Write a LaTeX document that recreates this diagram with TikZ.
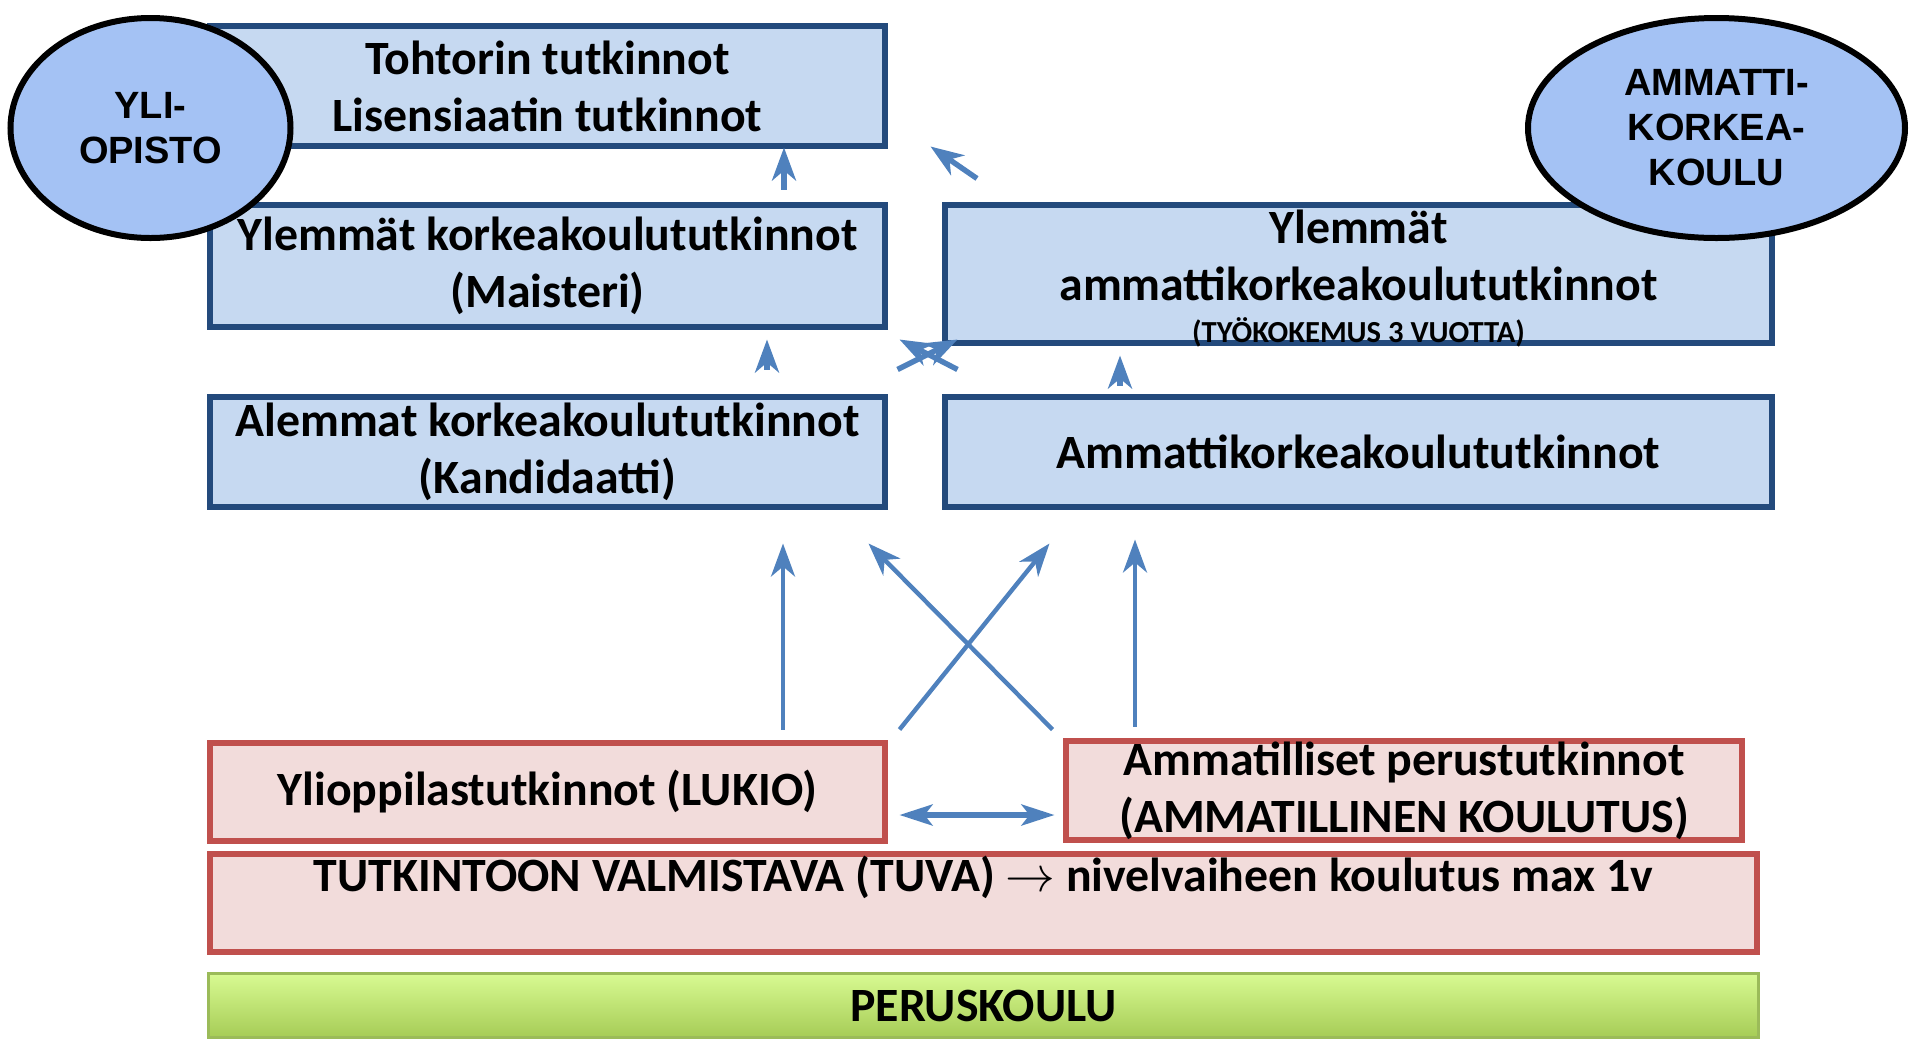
\documentclass[tikz,border=0pt]{standalone}
\usepackage{fontspec}
\setmainfont{Carlito}
\newfontfamily\arialf{Liberation Sans}
\usetikzlibrary{arrows.meta,shapes.geometric,calc}
\definecolor{bfill}{RGB}{198,217,241}
\definecolor{bline}{RGB}{35,74,124}
\definecolor{rfill}{RGB}{242,220,219}
\definecolor{rline}{RGB}{192,80,77}
\definecolor{efill}{RGB}{164,194,244}
\definecolor{arrc}{RGB}{79,129,189}
\definecolor{gtop}{RGB}{216,250,146}
\definecolor{gbot}{RGB}{166,204,86}
\definecolor{gline}{RGB}{155,187,89}
\begin{document}
\begin{tikzpicture}[x=0.5pt,y=-0.5pt,
  basetxt/.style={inner sep=0pt,align=center,font=\bfseries\fontsize{23.9}{28.5}\selectfont},
  bluebox/.style={basetxt,draw=bline,fill=bfill,line width=3pt},
  redbox/.style={basetxt,draw=rline,fill=rfill,line width=3pt},
  greenbox/.style={basetxt,draw=gline,top color=gtop,bottom color=gbot,line width=1.5pt},
  oval/.style={ellipse,draw=black,fill=efill,line width=3pt,inner sep=0pt,align=center,
    font=\arialf\bfseries\fontsize{19}{22.5}\selectfont},
  txt/.style={basetxt,anchor=base},
  arr/.style={draw=arrc,line width=2.2pt,-{Stealth[length=16.5pt,width=12pt,inset=5pt]}},
  sarr/.style={draw=arrc,line width=2.7pt,-{Stealth[length=16.5pt,width=12pt,inset=5pt]}},
  darr/.style={draw=arrc,line width=2.7pt,{Stealth[length=16.5pt,width=10.5pt,inset=4pt]}-{Stealth[length=16.5pt,width=10.5pt,inset=4pt]}}]
\useasboundingbox (0,0) rectangle (1913,1040);

% blue boxes
\node[bluebox,minimum width=337.5pt,minimum height=60pt] (toht) at (547.5,86)
  {Tohtorin tutkinnot\\Lisensiaatin tutkinnot};
\node[bluebox,minimum width=337.5pt,minimum height=61pt] (ylk) at (547.5,266)
  {Ylemmät korkeakoulututkinnot\\(Maisteri)};
\node[bluebox,minimum width=337.5pt,minimum height=55pt] (alk) at (547.5,452)
  {Alemmat korkeakoulututkinnot\\(Kandidaatti)};
\node[bluebox,minimum width=413.5pt,minimum height=69pt] (yamk) at (1358.5,274) {};
\node[txt] (yamk1) at (1358.5,243) {Ylemmät};
\node[txt] (yamk2) at (1358.5,300) {ammattikorkeakoulututkinnot};
\node[txt,font=\bfseries\fontsize{15.3}{18}\selectfont] (yamk3) at (1358.5,342) {(TYÖKOKEMUS 3 VUOTTA)};
\node[bluebox,minimum width=413.5pt,minimum height=55pt] (amk) at (1358.5,452)
  {Ammattikorkeakoulututkinnot};

% red boxes
\node[redbox,minimum width=337.5pt,minimum height=49pt] (ylio) at (547.5,792)
  {Ylioppilastutkinnot (LUKIO)};
\node[redbox,minimum width=338pt,minimum height=49.5pt] (ammp) at (1404,790.5)
  {Ammatilliset perustutkinnot\\(AMMATILLINEN KOULUTUS)};
\node[redbox,minimum width=773.5pt,minimum height=49pt] (tuva) at (983.5,903) {};
\node[txt] (tuvat) at (983.5,891) {TUTKINTOON VALMISTAVA (TUVA) $\rightarrow$ nivelvaiheen koulutus max 1v};

% green box
\node[greenbox,minimum width=775pt,minimum height=32pt] (perus) at (983.5,1005.5) {PERUSKOULU};

% ellipses
\node[oval,minimum width=140pt,minimum height=110pt] (yo) at (150.5,128) {YLI-\\OPISTO};
\node[oval,minimum width=188.5pt,minimum height=110pt] (amko) at (1716.5,128) {AMMATTI-\\KORKEA-\\KOULU};

% short arrows between upper boxes
\draw[sarr] ($(ylk.north)+(236.5,-12.5)$) -- ($(toht.south)+(236.5,-1.5)$);
\draw[sarr] ($(yamk.north)+(-381.5,-23.5)$) -- ($(toht.south east)+(42.5,-2.5)$);
\draw[sarr] ($(alk.north)+(219.5,-24.5)$) -- ($(ylk.south)+(219.5,9.5)$);
\draw[sarr] ($(amk.north)+(-238.5,-8.5)$) -- ($(yamk.south)+(-238.5,9.5)$);
\draw[sarr] ($(alk.north east)+(9.5,-24.5)$) -- ($(yamk.south west)+(15.5,-6.5)$);
\draw[sarr] ($(amk.north west)+(15.5,-24.5)$) -- ($(ylk.south east)+(11.5,9.5)$);

% long arrows from secondary level
\draw[arr] ($(ylio.north)+(235.5,-10.5)$) -- ($(alk.south)+(235.5,33.5)$);
\draw[arr] ($(ammp.north)+(-269,-11.5)$) -- ($(amk.south)+(-223.5,29.5)$);
\draw[arr] ($(ylio.north east)+(11.5,-10.5)$) -- ($(amk.south west)+(107.5,33.5)$);
\draw[arr] ($(ammp.north west)+(-10.5,-8.5)$) -- ($(alk.south east)+(-19.5,33.5)$);

% double arrow
\draw[darr] ($(ylio.east)+(11.5,23)$) -- ($(ammp.west)+(-8.5,24.5)$);
\end{tikzpicture}
\end{document}
